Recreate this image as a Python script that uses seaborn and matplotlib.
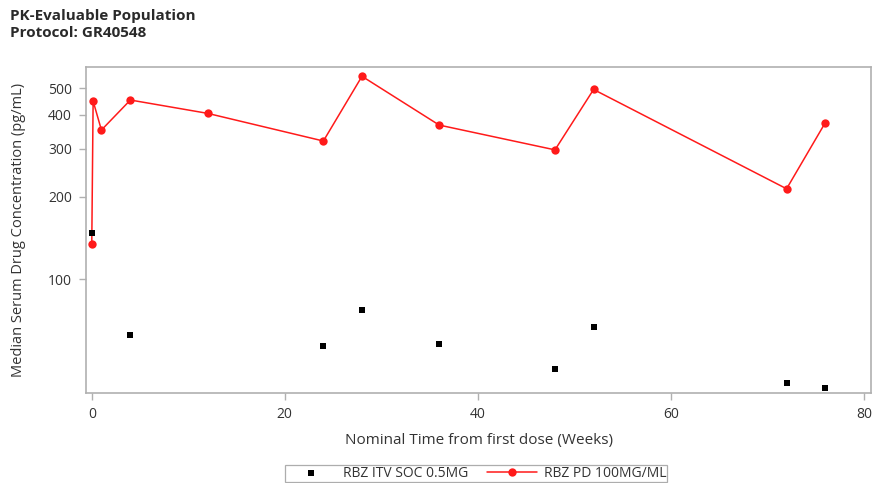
import matplotlib
matplotlib.use("Agg")
import matplotlib.pyplot as plt
from matplotlib.ticker import FixedLocator, FixedFormatter, NullLocator
import seaborn as sns
import pandas as pd

# Median serum ranibizumab concentrations by nominal week
itv_weeks = [0, 4, 24, 28, 36, 48, 52, 72, 76]
itv_conc = [148, 62.4, 56.9, 77.1, 57.8, 47.0, 66.7, 41.6, 40.0]

pd_weeks = [0, 0.14, 1, 4, 12, 24, 28, 36, 48, 52, 72, 76]
pd_conc = [134, 448, 351, 452, 404, 320, 552, 366, 297, 494, 214, 373]

series_labels = ["RBZ ITV SOC 0.5MG", "RBZ PD 100MG/ML"]
y_ticks = [100, 200, 300, 400, 500]
x_ticks = [0, 20, 40, 60, 80]

sns.set_theme(style="white")
plt.rcParams["font.family"] = ["Open Sans", "DejaVu Sans"]

itv_df = pd.DataFrame({"week": itv_weeks, "conc": itv_conc, "arm": series_labels[0]})
pd_df = pd.DataFrame({"week": pd_weeks, "conc": pd_conc, "arm": series_labels[1]})

fig = plt.figure(figsize=(8.72, 4.83), dpi=100)
ax = fig.add_axes([0.0986, 0.1863, 0.9003, 0.675])

sns.scatterplot(data=itv_df, x="week", y="conc", marker="s", color="black",
                s=24, edgecolor="black", linewidth=0, ax=ax, label=series_labels[0], zorder=3)
sns.lineplot(data=pd_df, x="week", y="conc", color="#ff1a1a", linewidth=1.1,
             marker="o", markersize=6, markeredgewidth=0, ax=ax,
             label=series_labels[1], zorder=2, estimator=None, sort=False)

ax.set_yscale("log")
ax.set_ylim(38.3, 597)
ax.set_xlim(-0.6, 80.75)
ax.yaxis.set_major_locator(FixedLocator(y_ticks))
ax.yaxis.set_major_formatter(FixedFormatter([str(v) for v in y_ticks]))
ax.yaxis.set_minor_locator(NullLocator())
ax.set_xticks(x_ticks)

spine_color = "#b0b0b0"
for s in ax.spines.values():
    s.set_color(spine_color)
    s.set_linewidth(1.2)
ax.tick_params(axis="both", which="major", direction="out", length=5, width=1,
               color=spine_color, labelsize=10, labelcolor="#333333", pad=5,
               bottom=True, left=True)

ax.set_xlabel("Nominal Time from first dose (Weeks)", fontsize=11, color="#333333", labelpad=8)
ax.set_ylabel("Median Serum Drug Concentration (pg/mL)", fontsize=10.5, color="#333333", labelpad=16)

leg = ax.legend(loc="upper center", bbox_to_anchor=(0.497, -0.222), ncol=2, frameon=True,
                fancybox=False, edgecolor="#999999", fontsize=10, handlelength=3.6,
                columnspacing=1.4, borderpad=0.05, handletextpad=0.5, borderaxespad=0)
leg.get_frame().set_linewidth(0.9)
for t in leg.get_texts():
    t.set_color("#333333")

fig.text(0.011, 0.966, "PK-Evaluable Population", fontsize=11, fontweight="bold",
         color="#2a2a2a", va="center", ha="left")
fig.text(0.011, 0.932, "Protocol: GR40548", fontsize=11, fontweight="bold",
         color="#2a2a2a", va="center", ha="left")

fig.savefig("out.png", dpi=100)
